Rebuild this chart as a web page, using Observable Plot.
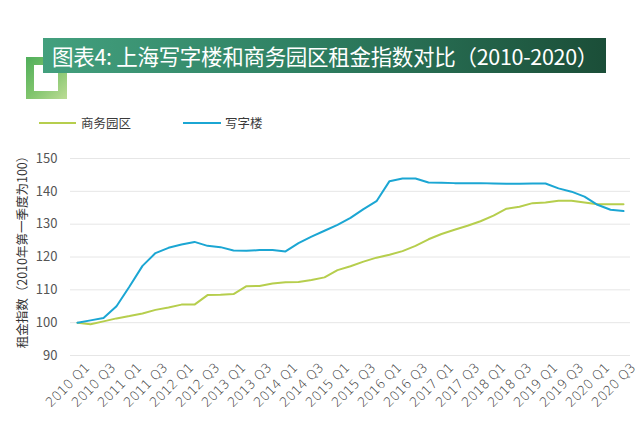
<!DOCTYPE html>
<html>
<head>
<meta charset="utf-8">
<script src="https://cdn.jsdelivr.net/npm/d3@7"></script>
<script src="https://cdn.jsdelivr.net/npm/@observablehq/plot@0.6"></script>
<style>
  html, body { margin: 0; padding: 0; background: #fff; }
  #wrap { position: relative; width: 640px; height: 444px; overflow: hidden; font-family: "Noto Sans CJK SC", "Noto Sans", sans-serif; }
  #square { position: absolute; left: 26px; top: 57px; width: 41px; height: 42px; background: linear-gradient(135deg, #4fae5b 0%, #7fc46c 50%, #bcdc95 100%); }
  #square .inner { position: absolute; left: 8px; top: 8px; right: 9px; bottom: 8px; background: #fff; }
  #banner { position: absolute; left: 43px; top: 38px; width: 563px; height: 35px; background: linear-gradient(90deg, #43a07e 0%, #2f8163 45%, #1b4e38 100%); color: #fff; font-size: 21.5px; letter-spacing: -0.3px; line-height: 35px; padding-left: 9px; box-sizing: border-box; white-space: nowrap; }
  .leg-line { position: absolute; height: 2px; }
  .leg-text { position: absolute; font-size: 12.5px; color: #3a3a3a; line-height: 14px; }
  #chart { position: absolute; left: 0; top: 140px; }
</style>
</head>
<body>
<div id="wrap">
  <div id="square"><div class="inner"></div></div>
  <div id="banner">图表4: 上海写字楼和商务园区租金指数对比（2010-2020）</div>
  <div class="leg-line" style="left:39px; top:122px; width:37px; background:#b6ce4d;"></div>
  <div class="leg-text" style="left:81px; top:116px;">商务园区</div>
  <div class="leg-line" style="left:183px; top:122px; width:38px; background:#1ba6d3;"></div>
  <div class="leg-text" style="left:225px; top:116px;">写字楼</div>
  <div id="chart"></div>
</div>
<script>
const quarters = [
  "2010 Q1","2010 Q2","2010 Q3","2010 Q4",
  "2011 Q1","2011 Q2","2011 Q3","2011 Q4",
  "2012 Q1","2012 Q2","2012 Q3","2012 Q4",
  "2013 Q1","2013 Q2","2013 Q3","2013 Q4",
  "2014 Q1","2014 Q2","2014 Q3","2014 Q4",
  "2015 Q1","2015 Q2","2015 Q3","2015 Q4",
  "2016 Q1","2016 Q2","2016 Q3","2016 Q4",
  "2017 Q1","2017 Q2","2017 Q3","2017 Q4",
  "2018 Q1","2018 Q2","2018 Q3","2018 Q4",
  "2019 Q1","2019 Q2","2019 Q3","2019 Q4",
  "2020 Q1","2020 Q2","2020 Q3"
];
const xTickLabels = [
  "2010 Q1","2010 Q3","2011 Q1","2011 Q3","2012 Q1","2012 Q3",
  "2013 Q1","2013 Q3","2014 Q1","2014 Q3","2015 Q1","2015 Q3",
  "2016 Q1","2016 Q3","2017 Q1","2017 Q3","2018 Q1","2018 Q3",
  "2019 Q1","2019 Q3","2020 Q1","2020 Q3"
];
const yTicks = [90, 100, 110, 120, 130, 140, 150];
const seriesNames = ["商务园区", "写字楼"];
const seriesColors = ["#b6ce4d", "#1ba6d3"];
// 商务园区
const parkIndex = [
  100.0, 99.5, 100.4, 101.3, 102.0, 102.8, 103.9, 104.6,
  105.5, 105.5, 108.4, 108.5, 108.7, 111.1, 111.2, 111.9,
  112.3, 112.4, 113.0, 113.8, 116.0, 117.2, 118.6, 119.8,
  120.7, 121.8, 123.4, 125.4, 127.0, 128.3, 129.5, 130.9,
  132.6, 134.7, 135.3, 136.4, 136.6, 137.1, 137.1, 136.6,
  136.1, 136.1, 136.1
];
// 写字楼
const officeIndex = [
  100.0, 100.7, 101.4, 105.0, 111.0, 117.3, 121.2, 122.8,
  123.8, 124.6, 123.4, 123.0, 122.0, 121.9, 122.1, 122.1,
  121.7, 124.2, 126.2, 128.0, 129.8, 131.9, 134.6, 137.0,
  143.1, 143.9, 143.9, 142.7, 142.6, 142.5, 142.5, 142.5,
  142.4, 142.3, 142.3, 142.4, 142.4, 140.9, 139.9, 138.4,
  135.9, 134.4, 134.0
];
const yLabel = "租金指数（2010年第一季度为100）";

const rows = [];
quarters.forEach((q, i) => {
  rows.push({quarter: q, value: parkIndex[i], series: seriesNames[0]});
  rows.push({quarter: q, value: officeIndex[i], series: seriesNames[1]});
});

const chart = Plot.plot({
  width: 640,
  height: 304,
  marginTop: 18,
  marginBottom: 89,
  marginLeft: 70,
  marginRight: 10,
  style: {fontFamily: '"Noto Sans CJK SC", "Noto Sans", sans-serif', background: "transparent"},
  x: {type: "point", domain: quarters, padding: 0.5, axis: null},
  y: {domain: [90, 150], axis: null},
  color: {domain: seriesNames, range: seriesColors},
  marks: [
    Plot.ruleY(yTicks, {stroke: "#e6e6e6", strokeWidth: 1}),
    Plot.line(rows, {x: "quarter", y: "value", z: "series", stroke: "series", strokeWidth: 2, strokeLinejoin: "round"}),
    Plot.text(yTicks, {y: d => d, text: d => String(d), frameAnchor: "left", textAnchor: "end", dx: -13, fontSize: 13, fill: "#555"}),
    Plot.text(xTickLabels, {x: d => d, text: d => d, frameAnchor: "bottom", rotate: -45, textAnchor: "end", lineAnchor: "middle", dx: 10, dy: 10, fontSize: 13, fill: "#333", fontFamily: '"DejaVu Sans", sans-serif', fontWeight: 200}),
    Plot.text([yLabel], {text: d => d, frameAnchor: "left", rotate: -90, textAnchor: "middle", lineAnchor: "middle", dx: -48, dy: -8, fontSize: 12.5, fill: "#333"})
  ]
});
document.getElementById("chart").appendChild(chart);
</script>
</body>
</html>
